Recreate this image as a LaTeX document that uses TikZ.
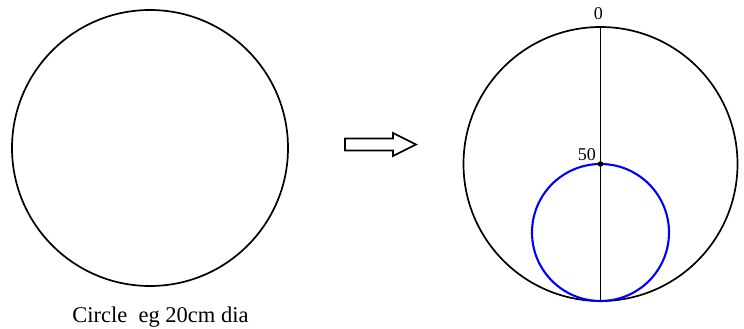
\documentclass[tikz,border=0pt]{standalone}
\usepackage{fontspec}
\setmainfont{Liberation Serif}
\begin{document}
\begin{tikzpicture}[x=1pt,y=-1pt,
  ring/.style={circle,draw=black,line width=1.7pt,inner sep=0pt,outer sep=0pt},
  bluering/.style={circle,draw=blue,line width=2.1pt,inner sep=0pt,outer sep=0pt},
  lbl/.style={inner sep=0pt,font=\fontsize{18}{20}\selectfont},
  caption/.style={inner sep=0pt,font=\fontsize{22.5}{26}\selectfont}]
\useasboundingbox[fill=white] (0,0) rectangle (744,329);
% left circle
\node[ring,minimum size=276] (c1) at (150,148) {};
\node[caption,anchor=base] (cap) at (160.4,322.3) {Circle\ \ eg 20cm dia};
% hollow arrow
\draw[line width=1.7pt,line join=miter] (345,138.5) -- (393,138.5) -- (393,133) -- (416,144.5) -- (393,156) -- (393,150.5) -- (345,150.5) -- cycle;
% right circle
\node[ring,minimum size=274] (c2) at (600.5,164) {};
\node[bluering,minimum size=137] (c3) at (600.5,232.5) {};
\draw[line width=1.6pt] (c2.north) -- (c2.south);
\fill (c3.north) circle (2.8);
\node[lbl,anchor=base] (l0) at (598.3,19.5) {0};
\node[lbl,anchor=base east] (l50) at (596,160.5) {50};
\end{tikzpicture}
\end{document}
